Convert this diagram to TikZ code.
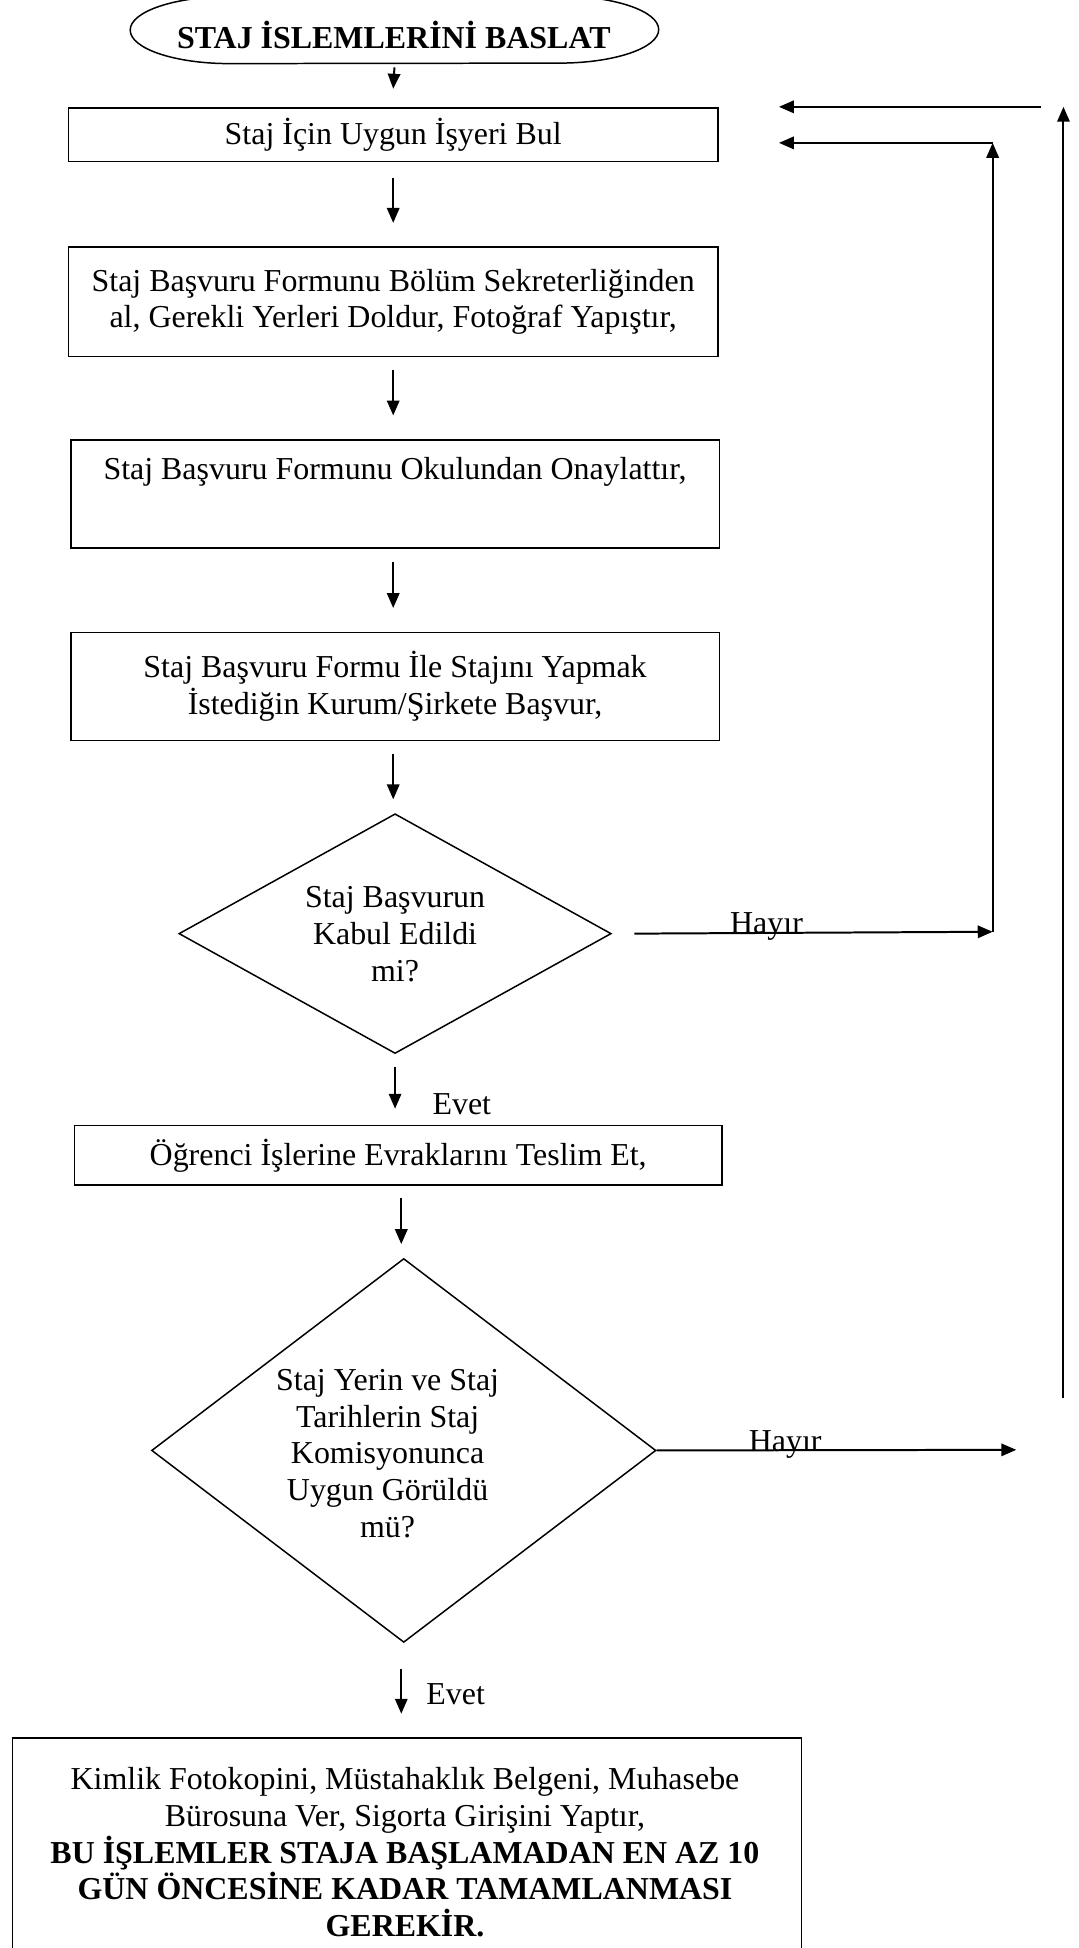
\documentclass[tikz,border=0pt]{standalone}
\usepackage{fontspec}
\setmainfont{Liberation Serif}
\usetikzlibrary{arrows.meta,shapes.geometric,positioning,calc}
\begin{document}
\begin{tikzpicture}[x=1pt,y=1pt,
  every node/.style={font=\fontsize{25.7}{29.5}\selectfont},
  boxst/.style={draw,line width=1.2pt,rectangle,inner sep=0pt,align=center},
  dia/.style={draw,line width=1.2pt,diamond,inner sep=0pt},
  txt/.style={align=center,inner sep=0pt},
  arr/.style={line width=1.6pt,-{Triangle[length=12pt,width=10pt]}}
]
\useasboundingbox (0,0) rectangle (868,-1568);
% start (flattened ellipse, clipped at the top of the page)
\node[rectangle,minimum width=425,minimum height=54,inner sep=0pt] (start) at (317.5,-24) {};
\draw[line width=1.2pt] ([xshift=80pt]start.north west) -- ([xshift=-80pt]start.north east)
  arc[start angle=90,end angle=-90,x radius=80pt,y radius=27pt]
  -- ([xshift=80pt]start.south west)
  arc[start angle=270,end angle=90,x radius=80pt,y radius=27pt] -- cycle;
\node[txt,font=\fontsize{25.7}{29.5}\selectfont\bfseries] (starttxt) at (317,-28) {STAJ İSLEMLERİNİ BASLAT};
% boxes
\node[boxst,minimum width=523,minimum height=43] (b1) at (316.5,-108.5) {Staj İçin Uygun İşyeri Bul};
\node[boxst,minimum width=523,minimum height=88] (b2) at (316.5,-243) {Staj Başvuru Formunu Bölüm Sekreterliğinden\\al, Gerekli Yerleri Doldur, Fotoğraf Yapıştır,};
\node[boxst,minimum width=522,minimum height=87] (b3) at (318,-397.5) {};
\node[txt] (t3) at (318,-380) {Staj Başvuru Formunu Okulundan Onaylattır,};
\node[boxst,minimum width=522,minimum height=87] (b4) at (318,-552.5) {Staj Başvuru Formu İle Stajını Yapmak\\İstediğin Kurum/Şirkete Başvur,};
\node[dia,minimum width=348,minimum height=193] (d1) at (318,-751.5) {};
\node[txt] (t5) at (318,-752) {Staj Başvurun\\Kabul Edildi\\mi?};
\node[boxst,minimum width=521,minimum height=48] (b5) at (320.5,-930) {Öğrenci İşlerine Evraklarını Teslim Et,};
\node[dia,minimum width=406,minimum height=309] (d2) at (325,-1167.5) {};
\node[txt] (t7) at (312,-1170) {Staj Yerin ve Staj\\Tarihlerin Staj\\Komisyonunca\\Uygun Görüldü\\mü?};
\node[boxst,minimum width=635,minimum height=190] (b6) at (327.5,-1494) {};
\node[txt] (t6) at (326,-1491) {Kimlik Fotokopini, Müstahaklık Belgeni, Muhasebe\\Bürosuna Ver, Sigorta Girişini Yaptır,\\\textbf{BU İŞLEMLER STAJA BAŞLAMADAN EN AZ 10}\\\textbf{GÜN ÖNCESİNE KADAR TAMAMLANMASI}\\\textbf{GEREKİR.}};
% vertical arrows
\draw[arr] ([yshift=-3pt]start.south) -- ([yshift=15pt]b1.north);
\draw[arr] ([yshift=-13pt]b1.south) -- ([yshift=19pt]b2.north);
\draw[arr] ([yshift=-10pt]b2.south) -- ([yshift=19pt]b3.north -| b2.north);
\draw[arr] ([yshift=-11pt]b3.south -| b2.south) -- ([yshift=19pt]b4.north -| b2.north);
\draw[arr] ([yshift=-10pt]b4.south -| b2.south) -- ([yshift=11pt]d1.north -| b2.north);
\draw[arr] ([yshift=-10pt]d1.south) -- ([yshift=13pt]b5.north -| d1.south);
\node[anchor=base west,inner sep=0pt] (evet1) at (348,-897) {Evet};
\draw[arr] ([yshift=-10pt,xshift=2.5pt]b5.south) -- ([yshift=11pt,xshift=-2pt]d2.north);
\draw[arr] ([yshift=-21pt,xshift=-2pt]d2.south) -- ([yshift=19pt,xshift=-4.5pt]b6.north);
\node[anchor=base west,inner sep=0pt] (evet2) at (343,-1372) {Evet};
% Hayir loops
\coordinate (c1) at (799,-750);
\coordinate (c2) at (799,-115);
\coordinate (r1) at (627,-115);
\coordinate (c3) at (838,-86);
\coordinate (r2) at (627,-86);
\coordinate (c4) at (856,-1125);
\coordinate (c5) at (856,-86);
\coordinate (c6) at (818,-1167);
\draw[arr] ([xshift=18pt]d1.east) -- (c1);
\node[anchor=base,inner sep=0pt] (hayir1) at (617,-751) {Hayır};
\draw[arr] (c1) -- (c2);
\draw[arr] (c2) -- (r1);
\draw[arr] (c3) -- (r2);
\draw[arr] (c4) -- (c5);
\draw[arr] (d2.east) -- (c6);
\node[anchor=base,inner sep=0pt] (hayir2) at (632,-1168) {Hayır};
\end{tikzpicture}
\end{document}
